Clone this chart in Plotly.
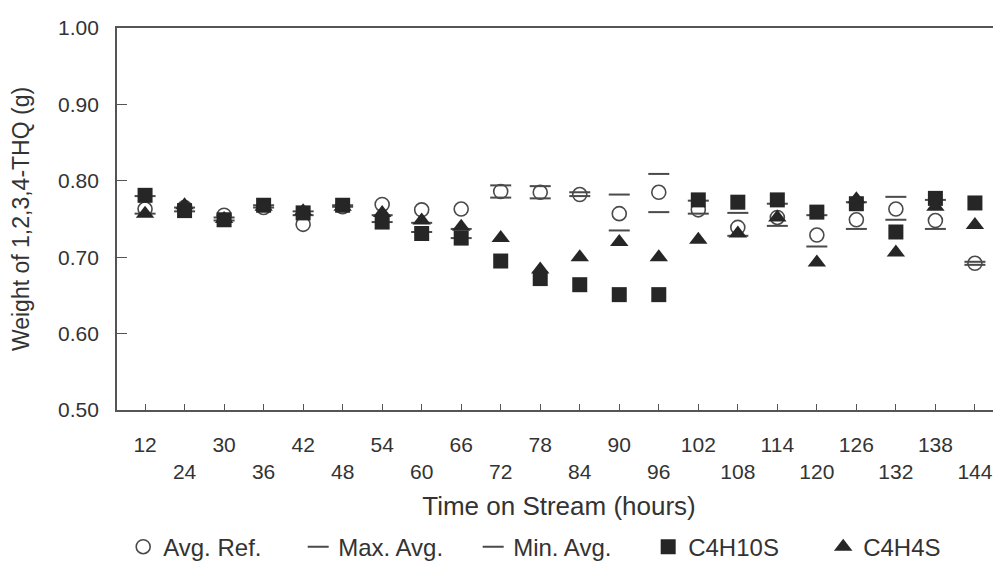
import plotly.graph_objects as go

hours = ["12", "24", "30", "36", "42", "48", "54", "60", "66", "72", "78",
         "84", "90", "96", "102", "108", "114", "120", "126", "132", "138", "144"]

avg_ref = [0.763, 0.765, 0.755, 0.765, 0.743, 0.766, 0.769, 0.762, 0.763, 0.786, 0.785,
           0.782, 0.757, 0.785, 0.762, 0.739, 0.752, 0.729, 0.749, 0.763, 0.748, 0.692]
max_avg = [0.780, 0.765, 0.752, 0.768, 0.760, 0.768, 0.755, 0.745, 0.737, 0.794, 0.793,
           0.785, 0.782, 0.809, 0.774, 0.758, 0.770, 0.755, 0.772, 0.779, 0.775, 0.694]
min_avg = [0.757, 0.760, 0.748, 0.765, 0.755, 0.766, 0.746, 0.733, 0.725, 0.778, 0.777,
           0.780, 0.735, 0.759, 0.757, 0.728, 0.741, 0.714, 0.737, 0.749, 0.737, 0.690]
c4h10s = [0.781, 0.761, 0.749, 0.768, 0.758, 0.768, 0.746, 0.731, 0.725, 0.695, 0.672,
          0.664, 0.651, 0.651, 0.775, 0.772, 0.775, 0.759, 0.770, 0.733, 0.777, 0.771]
c4h4s = [0.757, 0.768, 0.750, 0.766, 0.760, 0.766, 0.758, 0.748, 0.740, 0.725, 0.684,
         0.700, 0.720, 0.700, 0.723, 0.731, 0.752, 0.693, 0.776, 0.706, 0.766, 0.742]

y_ticks = [0.5, 0.6, 0.7, 0.8, 0.9, 1.0]
x_ticktext = [h if i % 2 == 0 else "<br>" + h for i, h in enumerate(hours)]

ink = "#262626"
grey = "#4a4a4a"
font = "Arial, Liberation Sans, sans-serif"

fig = go.Figure()
fig.add_trace(go.Scatter(x=hours, y=avg_ref, mode="markers", name="Avg. Ref.",
                         marker=dict(symbol="circle-open", size=14, color=grey,
                                     line=dict(width=1.6, color=grey))))
fig.add_trace(go.Scatter(x=hours, y=max_avg, mode="markers", name="Max. Avg.",
                         marker=dict(symbol="line-ew", size=15, color=grey,
                                     line=dict(width=2, color=grey))))
fig.add_trace(go.Scatter(x=hours, y=min_avg, mode="markers", name="Min. Avg.",
                         marker=dict(symbol="line-ew", size=15, color=grey,
                                     line=dict(width=2, color=grey))))
fig.add_trace(go.Scatter(x=hours, y=c4h10s, mode="markers", name="C4H10S",
                         marker=dict(symbol="square", size=15, color=ink)))
fig.add_trace(go.Scatter(x=hours, y=c4h4s, mode="markers", name="C4H4S",
                         marker=dict(symbol="triangle-up", size=16, color=ink)))

# the page body adds an 8px offset, so the figure is sized/margined to compensate
fig.update_layout(
    width=993, height=567,
    margin=dict(l=109, r=0, t=20, b=165),
    paper_bgcolor="white", plot_bgcolor="white",
    font=dict(family=font, size=21, color="#333"),
    legend=dict(orientation="h", x=0.007, xanchor="left", y=-0.359, yanchor="middle",
                font=dict(size=24, color="#333"), entrywidth=130, entrywidthmode="pixels",
                bgcolor="rgba(0,0,0,0)"),
    xaxis=dict(
        type="category", range=[-0.71, 21.66], automargin=False,
        tickmode="array", tickvals=hours, ticktext=x_ticktext,
        tickfont=dict(size=21),
        ticks="inside", ticklen=6, tickcolor="#555", tickwidth=1,
        showline=True, linecolor="#555", linewidth=1.8, mirror=True,
        showgrid=False, zeroline=False, ticklabelstandoff=15,
        title=dict(text="Time on Stream (hours)", standoff=14, font=dict(size=26)),
    ),
    yaxis=dict(
        range=[0.5, 1.0], tickmode="array", tickvals=y_ticks, automargin=False,
        ticktext=[f"{v:.2f}" for v in y_ticks],
        tickfont=dict(size=21),
        ticks="inside", ticklen=10, tickcolor="#555", tickwidth=1,
        showline=True, linecolor="#555", linewidth=1.8, mirror=False,
        showgrid=False, zeroline=False, ticklabelstandoff=12,
        title=dict(text="Weight of 1,2,3,4-THQ (g)", standoff=22, font=dict(size=23)),
    ),
)

fig.write_html("out.html")
